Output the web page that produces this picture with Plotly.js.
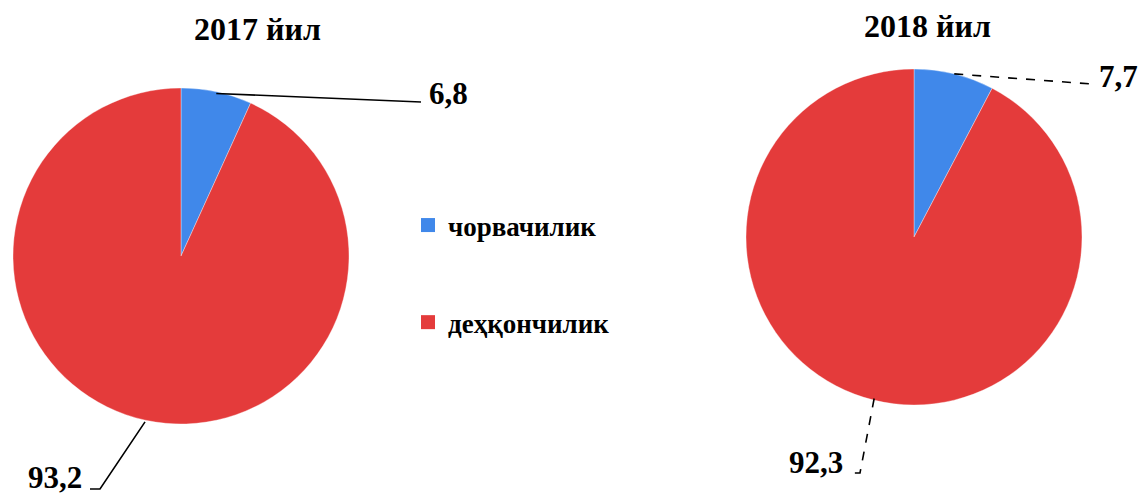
<!DOCTYPE html>
<html>
<head>
<meta charset="utf-8">
<script src="https://cdn.plot.ly/plotly-3.0.1.min.js"></script>
<style>html,body{margin:0;padding:0;background:#fff;}#chart{width:1138px;height:494px;}</style>
</head>
<body>
<div id="chart"></div>
<script>
const years = ['2017 йил', '2018 йил'];
const categories = ['чорвачилик', 'деҳқончилик'];
const values2017 = [6.8, 93.2];
const values2018 = [7.7, 92.3];
const colors = ['#4088ea', '#e43b3b'];

const W = 1138, H = 494;
const FONT = 'Liberation Serif, Times New Roman, serif';

// pie geometry (pixels)
const pies = [
  {cx: 181, cy: 256, r: 168, values: values2017, title: years[0], tx: 257, ty: 29, dash: 'solid',
   leaders: [{rf: 0.99, pts: [[421, 102]], lx: 427, ly: 93, anchor: 'left'},
             {rf: 1.01, pts: [[100, 489], [90, 489]], lx: 84, ly: 477, anchor: 'right'}]},
  {cx: 914, cy: 237, r: 168, values: values2018, title: years[1], tx: 927, ty: 26, dash: 'dash',
   leaders: [{rf: 1.0, pts: [[1092, 84]], lx: 1097, ly: 77, anchor: 'left'},
             {rf: 0.99, pts: [[860, 473], [849, 473]], lx: 845, ly: 462, anchor: 'right'}]}
];

const px = x => x / W;
const py = y => 1 - y / H;
const fmt = v => String(v).replace('.', ',');

const data = [];
const shapes = [];
const annotations = [];

pies.forEach((p, i) => {
  data.push({
    type: 'pie',
    labels: categories,
    values: p.values,
    sort: false,
    direction: 'clockwise',
    rotation: 0,
    textinfo: 'none',
    hoverinfo: 'label+value',
    showlegend: false,
    marker: {colors: colors, line: {color: 'rgba(255,255,255,0.35)', width: 1}},
    domain: {x: [px(p.cx - p.r), px(p.cx + p.r)], y: [py(p.cy + p.r), py(p.cy - p.r)]}
  });
  annotations.push({
    xref: 'paper', yref: 'paper', x: px(p.tx), y: py(p.ty), xanchor: 'center', yanchor: 'middle',
    text: '<b>' + p.title + '</b>', showarrow: false, font: {family: FONT, size: 32, color: '#000'}
  });
  const total = p.values.reduce((a, b) => a + b, 0);
  let cum = 0;
  p.values.forEach((v, k) => {
    const mid = (cum + v / 2) / total * 2 * Math.PI;
    cum += v;
    const L = p.leaders[k];
    const sx = p.cx + L.rf * p.r * Math.sin(mid);
    const sy = p.cy - L.rf * p.r * Math.cos(mid);
    let path = 'M' + px(sx) + ',' + py(sy);
    L.pts.forEach(q => { path += ' L' + px(q[0]) + ',' + py(q[1]); });
    shapes.push({type: 'path', xref: 'paper', yref: 'paper', path: path,
                 line: {color: '#000', width: 1.6, dash: p.dash}});
    annotations.push({
      xref: 'paper', yref: 'paper', x: px(L.lx), y: py(L.ly), xanchor: L.anchor, yanchor: 'middle',
      text: '<b>' + fmt(v) + '</b>', showarrow: false, font: {family: FONT, size: 31, color: '#000'}
    });
  });
});

// legend entries
categories.forEach((c, k) => {
  data.push({
    type: 'scatter', mode: 'markers', x: [null], y: [null], name: '<b>' + c + '</b>', legendgroup: 'g' + k,
    marker: {symbol: 'square', size: 14, color: colors[k]}, hoverinfo: 'skip', showlegend: true
  });
});

const layout = {
  width: W, height: H,
  margin: {l: 0, r: 0, t: 0, b: 0},
  paper_bgcolor: '#fff', plot_bgcolor: '#fff',
  font: {family: FONT},
  xaxis: {visible: false}, yaxis: {visible: false},
  showlegend: true,
  legend: {x: px(408), y: py(201), xanchor: 'left', yanchor: 'top',
           traceorder: 'grouped', tracegroupgap: 59,
           font: {family: FONT, size: 27, color: '#000'},
           bgcolor: 'rgba(0,0,0,0)'},
  shapes: shapes,
  annotations: annotations
};

Plotly.newPlot('chart', data, layout, {displayModeBar: false, staticPlot: true});
</script>
</body>
</html>
